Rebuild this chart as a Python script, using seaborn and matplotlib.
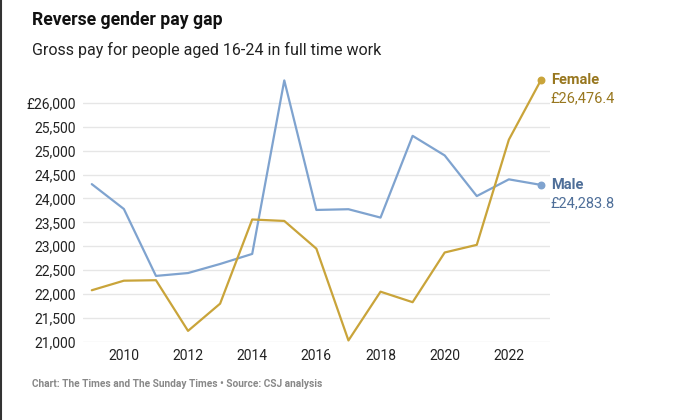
import matplotlib.pyplot as plt
import seaborn as sns
import pandas as pd
from matplotlib.lines import Line2D
from matplotlib.ticker import FuncFormatter

# 데이터
years = list(range(2009, 2024))
male = [24300, 23780, 22380, 22440, 22630, 22840, 26470, 23760, 23775,
        23600, 25310, 24900, 24050, 24400, 24283.8]
female = [22080, 22280, 22290, 21230, 21800, 23560, 23530, 22950, 21030,
          22050, 21830, 22870, 23030, 25230, 26476.4]
series_names = ['Male', 'Female']
line_colors = {'Male': '#7fa3cf', 'Female': '#c9a43a'}
label_colors = {'Male': '#4f6f99', 'Female': '#98771f'}

df = pd.DataFrame({'year': years * 2,
                   'pay': male + female,
                   'sex': ['Male'] * len(years) + ['Female'] * len(years)})

sns.set_style('white')
plt.rcParams['font.family'] = ['Roboto', 'DejaVu Sans']

fig = plt.figure(figsize=(6.9, 4.2), dpi=100)
ax = fig.add_axes([0.120, 0.186, 0.677, 0.626])

sns.lineplot(data=df, x='year', y='pay', hue='sex', palette=line_colors,
             linewidth=1.6, legend=False, ax=ax)

# 마지막 점과 라벨
for name in series_names:
    d = df[df['sex'] == name]
    x_end, y_end = d['year'].iloc[-1], d['pay'].iloc[-1]
    ax.scatter([x_end], [y_end], s=22, color=line_colors[name], zorder=5, clip_on=False)
    ax.annotate(name, (x_end, y_end), xytext=(7, 0), textcoords='offset points',
                ha='left', va='center', fontsize=10.5, fontweight='bold',
                color=label_colors[name], annotation_clip=False)
    ax.annotate(f'£{y_end:,.1f}', (x_end, y_end), xytext=(7, -13), textcoords='offset points',
                ha='left', va='center', fontsize=10.5,
                color=label_colors[name], annotation_clip=False)

ax.set_xlim(2008.72, 2023.28)
ax.set_ylim(21000, 26500)
ax.set_yticks(range(21000, 26001, 500))
ax.set_xticks(range(2010, 2023, 2))
ax.yaxis.set_major_formatter(FuncFormatter(
    lambda v, p: f'£{v:,.0f}' if v == 26000 else f'{v:,.0f}'))
ax.grid(axis='y', color='#e6e6e6', linewidth=1)
ax.grid(axis='x', visible=False)
for s in ax.spines.values():
    s.set_visible(False)
ax.tick_params(axis='both', length=0, labelsize=10, colors='#222222', pad=5)
ax.set_xlabel('')
ax.set_ylabel('')

fig.text(0.046, 0.952, 'Reverse gender pay gap', fontsize=12.7, fontweight='bold',
         color='#111111', va='center')
fig.text(0.046, 0.882, 'Gross pay for people aged 16-24 in full time work', fontsize=11.5,
         color='#222222', va='center')
fig.text(0.046, 0.086, 'Chart: The Times and The Sunday Times • Source: CSJ analysis',
         fontsize=7.3, color='#888888', va='center', fontweight='bold')

# 왼쪽 테두리
fig.add_artist(Line2D([0.002, 0.002], [0, 1], color='#333333', linewidth=1.5))

fig.savefig('out.png', dpi=100)
